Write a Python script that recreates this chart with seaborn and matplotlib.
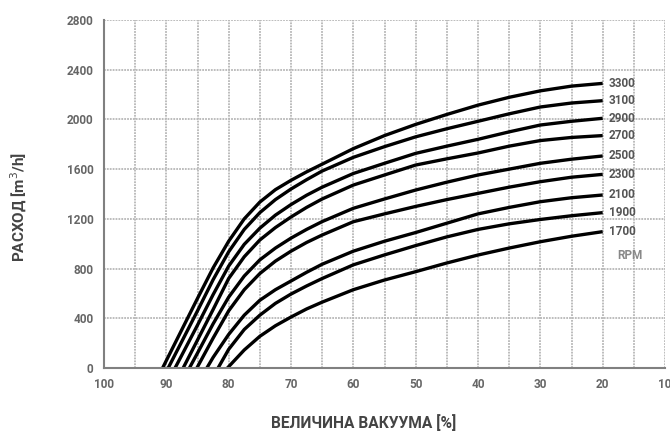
import numpy as np
import pandas as pd
import matplotlib
matplotlib.use("Agg")
import matplotlib.pyplot as plt
import seaborn as sns
from matplotlib.ticker import MultipleLocator

# ---- data ----
rpm = [3300, 3100, 2900, 2700, 2500, 2300, 2100, 1900, 1700]
vac_start = [90.6, 89.7, 88.6, 87.3, 86.3, 85.1, 83.5, 81.7, 80.2]
vac_grid = [87.5, 85, 82.5, 80, 77.5, 75, 72.5, 70, 67.5, 65, 60, 55, 50, 45, 40, 35, 30, 25, 20]
flow_3300 = [310, 560, 805, 1020, 1200, 1335, 1435, 1510, 1578, 1640, 1765, 1870, 1960, 2040, 2115, 2178, 2230, 2268, 2290]
flow_3100 = [215, 460, 710, 935, 1115, 1250, 1355, 1440, 1515, 1585, 1695, 1781, 1860, 1925, 1985, 2045, 2100, 2132, 2151]
flow_2900 = [105, 345, 590, 820, 995, 1125, 1230, 1315, 1390, 1455, 1565, 1647, 1727, 1785, 1840, 1900, 1955, 1985, 2009]
flow_2700 = [None, 225, 470, 720, 895, 1030, 1130, 1215, 1292, 1360, 1472, 1553, 1633, 1683, 1730, 1785, 1830, 1855, 1870]
flow_2500 = [None, 120, 355, 570, 740, 870, 965, 1045, 1115, 1178, 1285, 1360, 1432, 1495, 1553, 1600, 1647, 1680, 1706]
flow_2300 = [None, None, 240, 460, 630, 760, 860, 940, 1010, 1070, 1177, 1240, 1300, 1355, 1405, 1455, 1499, 1535, 1558]
flow_2100 = [None, None, 85, 270, 425, 545, 630, 700, 770, 835, 940, 1020, 1090, 1165, 1240, 1292, 1338, 1370, 1392]
flow_1900 = [None, None, None, 150, 310, 425, 520, 595, 660, 720, 830, 910, 985, 1055, 1115, 1160, 1195, 1225, 1250]
flow_1700 = [None, None, None, None, 145, 255, 340, 410, 475, 530, 630, 708, 775, 845, 909, 965, 1016, 1060, 1097]
flows = [flow_3300, flow_3100, flow_2900, flow_2700, flow_2500, flow_2300, flow_2100, flow_1900, flow_1700]

rows = []
for r, s, f in zip(rpm, vac_start, flows):
    rows.append({"rpm": r, "vac": s, "flow": 0})
    for v, q in zip(vac_grid, f):
        if q is not None:
            rows.append({"rpm": r, "vac": v, "flow": q})
df = pd.DataFrame(rows)

sns.set_theme(style="white")
plt.rcParams['font.family'] = ['Roboto', 'DejaVu Sans']
narrow = ['Roboto', 'DejaVu Sans']

fig = plt.figure(figsize=(6.7, 4.36), dpi=100)
ax = fig.add_axes([104/670, 1-368/436, (665-104)/670, (368-20)/436])

sns.lineplot(data=df, x="vac", y="flow", hue="rpm", units="rpm", estimator=None,
             palette=["black"]*len(rpm), legend=False, linewidth=2.4, ax=ax, sort=True)
for ln in ax.get_lines():
    ln.set_solid_joinstyle("round")
    ln.set_solid_capstyle("butt")

ax.set_xlim(100, 10)
ax.set_ylim(0, 2800)
ax.xaxis.set_major_locator(MultipleLocator(10))
ax.xaxis.set_minor_locator(MultipleLocator(5))
ax.yaxis.set_major_locator(MultipleLocator(400))
ax.yaxis.set_minor_locator(MultipleLocator(100))

grid_kw = dict(color="#b8b8b8", linestyle=(0, (1, 0.6)), linewidth=1.3)
for v in np.arange(95, 9, -5):
    ax.axvline(v, zorder=0, **grid_kw)
for h in np.arange(400, 2801, 400):
    ax.axhline(h, zorder=0, **grid_kw)

for sp in ["top", "right"]:
    ax.spines[sp].set_visible(False)
for sp in ["left", "bottom"]:
    ax.spines[sp].set_color("#808080")
    ax.spines[sp].set_linewidth(1.5)

ax.tick_params(axis="both", which="both", direction="out", color="#808080",
               width=1.2, labelcolor="#666666")
ax.tick_params(axis="both", which="major", length=4, pad=3.5)
ax.tick_params(axis="both", which="minor", length=3)
ax.set_yticks(np.arange(0, 2801, 400))
ax.set_yticklabels([f"{int(t)}" for t in np.arange(0, 2801, 400)],
                   fontweight="bold", family=narrow, fontsize=8.5)
ax.set_xticks(np.arange(100, 9, -10))
ax.set_xticklabels([f"{int(t)}" for t in np.arange(100, 9, -10)],
                   fontweight="bold", family=narrow, fontsize=8.5)
ax.set_xlim(100, 10)
ax.set_ylim(0, 2800)

ax.set_xlabel("")
ax.set_ylabel("")
fig.text(364/670, 1-423/436, "ВЕЛИЧИНА ВАКУУМА [%]", ha="center", va="center",
         fontsize=11.2, fontweight="bold", color="#444444")
fig.text(19/670, 1-207/436, "РАСХОД [m$^3$/h]", ha="center", va="center", rotation=90,
         fontsize=11, fontweight="bold", color="#444444")

for r, f in zip(rpm, flows):
    ax.text(19.0, f[-1], str(r), ha="left", va="center", fontsize=8.5,
            fontweight="bold", color="#555555", family=narrow)
ax.text(15.6, 909, "RPM", ha="center", va="center", fontsize=8.5,
        fontweight="bold", color="#888888", family=narrow)

fig.savefig("out.png", dpi=100)
